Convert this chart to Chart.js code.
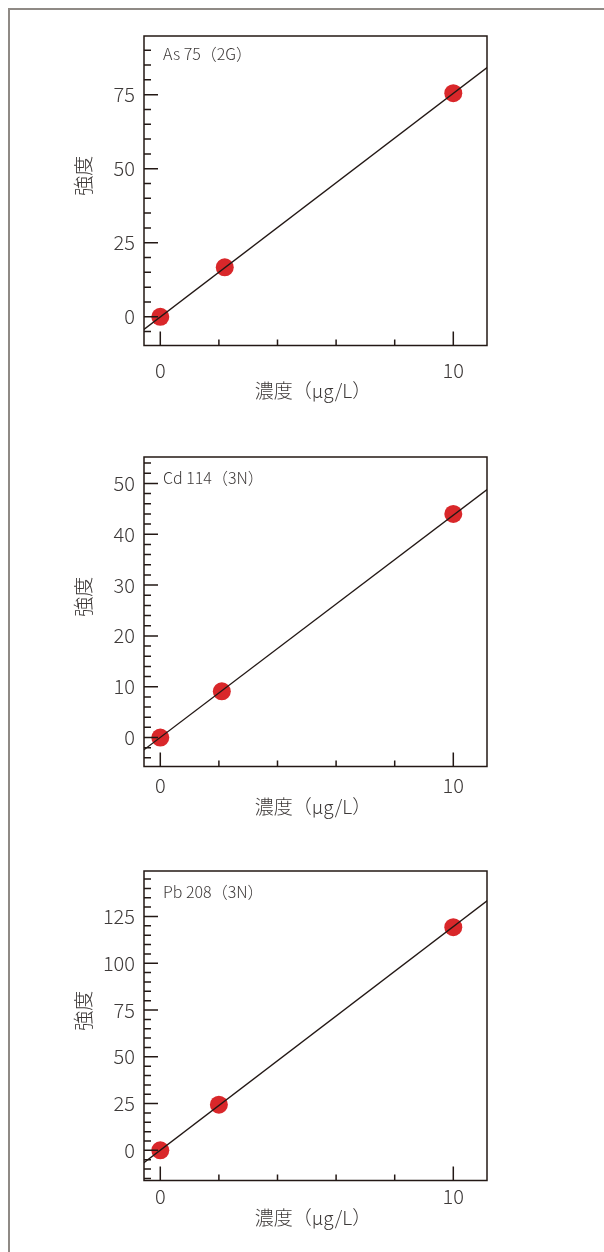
<!DOCTYPE html>
<html>
<head>
<meta charset="utf-8">
<script src="https://cdn.jsdelivr.net/npm/chart.js@4.4.1/dist/chart.umd.min.js"></script>
<style>
html, body { margin: 0; padding: 0; background: #fff; width: 604px; height: 1252px; overflow: hidden; }
#frame { position: absolute; left: 8px; top: 8px; width: 700px; height: 1400px; border: 2px solid #8f8a85; box-sizing: border-box; }
.panel { position: absolute; left: 0; width: 604px; height: 410px; }
</style>
</head>
<body>
<div id="frame"></div>
<div class="panel" style="top:0px"><canvas id="chartAs" width="604" height="410"></canvas></div>
<div class="panel" style="top:421px"><canvas id="chartCd" width="604" height="410"></canvas></div>
<div class="panel" style="top:835px"><canvas id="chartPb" width="604" height="410"></canvas></div>
<script>
const concAs = [0, 2.2, 10];
const concCd = [0, 2.1, 10];
const concPb = [0, 2.0, 10];
const intensityAs = [0, 16.7, 75.5];
const intensityCd = [0, 9.1, 44.0];
const intensityPb = [0, 24.4, 119.3];

// calibration line, two end points past the plot edges
const fitX = [-0.6, 11.2];
const fitAs = [-4.6, 84.5];
const fitCd = [-2.6, 49.0];
const fitPb = [-7.1, 133.9];

// tick labels and tick marks
const xTickLabels = [0, 10];
const xMinorTicks = [2, 4, 6, 8];
const yTicksAs = [0, 25, 50, 75];
const yTicksCd = [0, 10, 20, 30, 40, 50];
const yTicksPb = [0, 25, 50, 75, 100, 125];
const yMinorAs = [-5, 5, 10, 15, 20, 30, 35, 40, 45, 55, 60, 65, 70, 80, 85, 90];
const yMinorCd = [-4, -2, 2, 4, 6, 8, 12, 14, 16, 18, 22, 24, 26, 28, 32, 34, 36, 38, 42, 44, 46, 48, 52, 54];
const yMinorPb = [-15, -10, -5, 5, 10, 15, 20, 30, 35, 40, 45, 55, 60, 65, 70, 80, 85, 90, 95, 105, 110, 115, 120, 130, 135, 140, 145];

const FONT = '"Noto Sans CJK JP", "Noto Sans", sans-serif';
const TEXT = '#3e3a39';
const INK = '#231815';

// frame, inward tick marks and the texts inside/around the plot
const frameTicks = {
  id: 'frameTicks',
  afterDraw(chart, args, o) {
    const { ctx, chartArea: a, scales: { x, y } } = chart;
    ctx.save();
    ctx.strokeStyle = INK;
    ctx.lineWidth = 1.5;
    ctx.strokeRect(a.left, a.top, a.right - a.left, a.bottom - a.top);
    ctx.beginPath();
    o.yMajor.forEach(v => { const py = y.getPixelForValue(v); ctx.moveTo(a.left, py); ctx.lineTo(a.left + 14, py); });
    o.yMinor.forEach(v => { const py = y.getPixelForValue(v); ctx.moveTo(a.left, py); ctx.lineTo(a.left + 7, py); });
    xTickLabels.forEach(v => { const px = x.getPixelForValue(v); ctx.moveTo(px, a.bottom); ctx.lineTo(px, a.bottom - 14); });
    xMinorTicks.forEach(v => { const px = x.getPixelForValue(v); ctx.moveTo(px, a.bottom); ctx.lineTo(px, a.bottom - 6); });
    ctx.stroke();

    ctx.fillStyle = TEXT;
    ctx.textBaseline = 'middle';
    ctx.font = '300 16px ' + FONT;
    ctx.textAlign = 'left';
    ctx.fillText(o.label, a.left + 19, a.top + o.labelDy);

    ctx.font = '300 19px ' + FONT;
    ctx.textAlign = 'center';
    ctx.fillText('濃度（μg/L）', 313, a.bottom + o.titleDy);
    ctx.translate(83, (a.top + a.bottom) / 2 - 15);
    ctx.rotate(-Math.PI / 2);
    ctx.font = '300 20px ' + FONT;
    ctx.fillText('強度', 0, 0);
    ctx.restore();
  }
};

function makeChart(id, conc, intensity, fit, yMin, yMax, yTicks, yMinor, label, labelDy, titleDy, xPad) {
  const tickFont = { family: FONT, size: 20, weight: 300 };
  return new Chart(document.getElementById(id), {
    type: 'scatter',
    data: {
      datasets: [
        {
          type: 'line',
          data: fitX.map((v, i) => ({ x: v, y: fit[i] })),
          borderColor: INK,
          borderWidth: 1.3,
          pointRadius: 0,
          order: 0
        },
        {
          data: conc.map((v, i) => ({ x: v, y: intensity[i] })),
          backgroundColor: '#d9272a',
          pointRadius: 9,
          pointBorderWidth: 0,
          order: 1
        }
      ]
    },
    options: {
      responsive: false,
      animation: false,
      events: [],
      layout: { padding: { top: 36, right: 117, left: 0, bottom: 0 } },
      plugins: {
        legend: { display: false },
        tooltip: { enabled: false },
        frameTicks: { yMajor: yTicks, yMinor: yMinor, label: label, labelDy: labelDy, titleDy: titleDy }
      },
      scales: {
        x: {
          type: 'linear',
          min: -0.556,
          max: 11.15,
          grid: { display: false, drawTicks: false },
          border: { display: false },
          afterBuildTicks: s => { s.ticks = xTickLabels.map(v => ({ value: v })); },
          afterFit: s => { s.height = 64.5; },
          ticks: { padding: xPad, font: tickFont, color: TEXT, autoSkip: false, maxRotation: 0 }
        },
        y: {
          type: 'linear',
          min: yMin,
          max: yMax,
          grid: { display: false, drawTicks: false },
          border: { display: false },
          afterBuildTicks: s => { s.ticks = yTicks.map(v => ({ value: v })); },
          afterFit: s => { s.width = 144; },
          ticks: { padding: 9, font: tickFont, color: TEXT, autoSkip: false }
        }
      }
    },
    plugins: [frameTicks]
  });
}

makeChart('chartAs', concAs, intensityAs, fitAs, -9.7, 94.8, yTicksAs, yMinorAs, 'As 75（2G）', 17.5, 45, 13);
makeChart('chartCd', concCd, intensityCd, fitCd, -5.7, 55.2, yTicksCd, yMinorCd, 'Cd 114（3N）', 21, 40, 7);
makeChart('chartPb', concPb, intensityPb, fitPb, -16.1, 149.3, yTicksPb, yMinorPb, 'Pb 208（3N）', 21, 37, 4);
</script>
</body>
</html>
